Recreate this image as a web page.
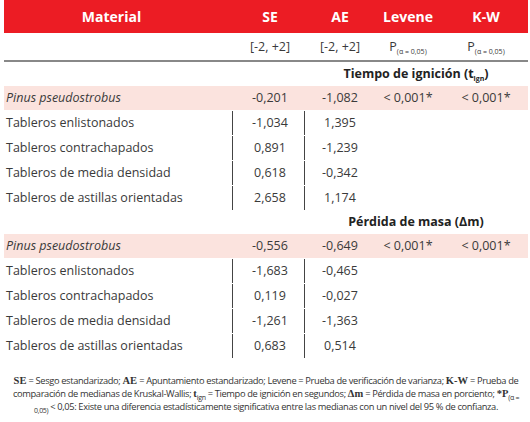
<!DOCTYPE html>
<html><head><meta charset="utf-8">
<script src="https://cdn.jsdelivr.net/npm/chart.js@4"></script>
<style>
body{margin:0;width:530px;height:422px;background:#fff;font-family:"Open Sans","Noto Sans",sans-serif;color:#3a3a3a;position:relative;overflow:hidden}
.r{position:absolute;left:4px;width:524px;height:24px;font-size:12.5px;line-height:24px}
.c{position:absolute;top:0;text-align:center}
.m{position:absolute;left:2px;top:0}
.hd{background:#ec1c24;color:#fff;font-weight:bold;font-size:14px;height:33px;line-height:33px;top:0}
.pk{background:#fbe3de}
.vl{position:absolute;top:0;width:1px;height:100%;background:#444}
sub{font-size:7px;vertical-align:-3px;line-height:0}
.note{position:absolute;left:6px;top:374px;width:520px;font-size:9.3px;line-height:13px;text-align:center;color:#333;letter-spacing:-0.35px}
.note b{font-family:'Liberation Serif',serif;font-size:10.5px;letter-spacing:0}
</style></head><body>
<script>
const columns = ['Material', 'SE', 'AE', 'Levene', 'K-W'];
const units = ['', '[-2, +2]', '[-2, +2]', 'P<sub>(α = 0,05)</sub>', 'P<sub>(α = 0,05)</sub>'];
const materials = ['<i>Pinus pseudostrobus</i>', 'Tableros enlistonados', 'Tableros contrachapados', 'Tableros de media densidad', 'Tableros de astillas orientadas'];
const sections = ['Tiempo de ignición (t<sub>ign</sub>)', 'Pérdida de masa (Δm)'];
const seIgn = ['-0,201', '-1,034', '0,891', '0,618', '2,658'];
const aeIgn = ['-1,082', '1,395', '-1,239', '-0,342', '1,174'];
const seMass = ['-0,556', '-1,683', '0,119', '-1,261', '0,683'];
const aeMass = ['-0,649', '-0,465', '-0,027', '-1,363', '0,514'];
const levene = ['< 0,001*', '< 0,001*'];
const kw = ['< 0,001*', '< 0,001*'];

const colX = [[0, 228], [228, 76], [304, 64], [368, 72], [440, 84]];
function row(top, cells, cls, lines) {
  const d = document.createElement('div');
  d.className = 'r ' + (cls || '');
  d.style.top = top + 'px';
  cells.forEach((t, i) => {
    if (t == null) return;
    const s = document.createElement('div');
    s.className = i === 0 ? 'm' : 'c';
    if (i > 0) { s.style.left = colX[i][0] + 'px'; s.style.width = colX[i][1] + 'px'; }
    s.innerHTML = t;
    d.appendChild(s);
  });
  if (lines) [228, 300].forEach(x => { const v = document.createElement('div'); v.className = 'vl'; v.style.left = x + 'px'; d.appendChild(v); });
  document.body.appendChild(d);
  return d;
}
const h = row(0, columns, 'hd');
h.querySelector('.m').style.cssText = 'left:0;width:215px;text-align:center';
const u = row(33, units);
u.style.height = '27px'; u.style.lineHeight = '27px'; u.style.borderBottom = '2px solid #888';
const seArr = [seIgn, seMass], aeArr = [aeIgn, aeMass];
[62, 210].forEach((top, s) => {
  const t = row(top, [null]);
  t.innerHTML = '<div style="position:absolute;left:300px;width:224px;text-align:center;font-weight:bold;color:#222">' + sections[s] + '</div>';
  materials.forEach((m, i) => {
    row(top + 24 + i * 25, [m, seArr[s][i], aeArr[s][i], i === 0 ? levene[s] : '', i === 0 ? kw[s] : ''], i === 0 ? 'pk' : '', i > 0);
  });
});
</script>
<div class="note"><b>SE</b> = Sesgo estandarizado; <b>AE</b> = Apuntamiento estandarizado; Levene = Prueba de verificación de varianza; <b>K-W</b> = Prueba de comparación de medianas de Kruskal-Wallis; <b>t</b><sub>ign</sub> = Tiempo de ignición en segundos; <b>Δm</b> = Pérdida de masa en porciento; <b>*P</b><sub>(α = 0,05)</sub> &lt; 0,05: Existe una diferencia estadísticamente significativa entre las medianas con un nivel del 95 % de confianza.</div>
</body></html>
